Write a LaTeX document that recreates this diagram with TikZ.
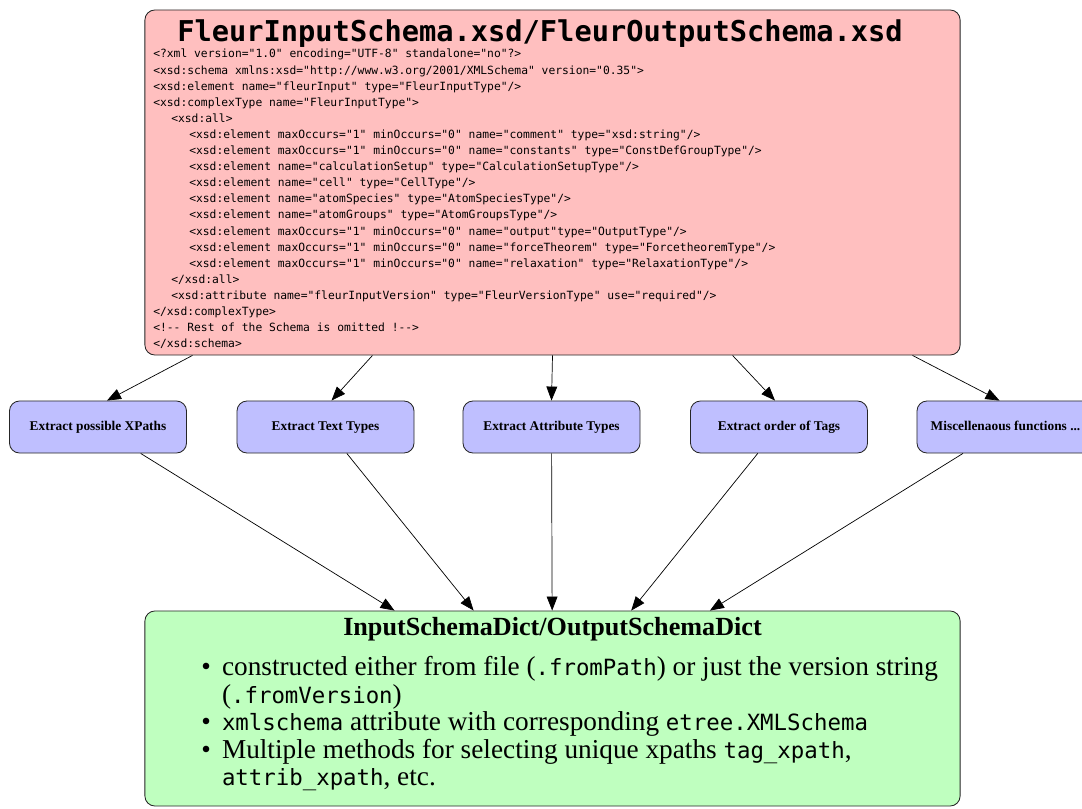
\documentclass[tikz,border=0pt]{standalone}
\usepackage{fontspec}
\setmainfont{Liberation Serif}
\setmonofont{DejaVu Sans Mono}[Scale=0.82]
\newfontfamily\codefont{DejaVu Sans Mono}
\usepackage{enumitem}
\usetikzlibrary{arrows.meta}
\definecolor{schemared}{HTML}{FFBFBF}
\definecolor{extractblue}{HTML}{BFBFFF}
\definecolor{dictgreen}{HTML}{BFFFBF}

\begin{document}
\begin{tikzpicture}[x=0.025cm,y=-0.025cm,
  roundbox/.style={draw=black!85,line width=0.6pt,rounded corners=0.25cm},
  extract/.style={roundbox,fill=extractblue,minimum width=4.425cm,minimum height=1.3cm,text height=1.6ex,text depth=0.4ex,font=\fontsize{9.5}{11}\selectfont\bfseries},
  flow/.style={-{Triangle[length=0.35cm,width=0.27cm]},line width=0.5pt}]
\useasboundingbox (0,0) rectangle (1082,808);
\clip (0,0) rectangle (1082,808);
\node[roundbox,fill=schemared,minimum width=20.375cm,minimum height=8.625cm] (schema) at (552.5,182.5) {};
\node[anchor=base,inner sep=0pt,font=\codefont\fontsize{20.4}{24}\selectfont\bfseries] (title) at (540,42) {FleurInputSchema.xsd/FleurOutputSchema.xsd};
\node[anchor=north west,inner sep=0pt,align=left,font=\codefont\fontsize{8.05}{11.45}\selectfont] (code) at (153,49) {%
<?xml version="1.0" encoding="UTF-8" standalone="no"?>\\
<xsd:schema xmlns:xsd="http://www.w3.org/2001/XMLSchema" version="0.35">\\
<xsd:element name="fleurInput" type="FleurInputType"/>\\
<xsd:complexType name="FleurInputType">\\
\hspace*{0.45cm}<xsd:all>\\
\hspace*{0.9cm}<xsd:element maxOccurs="1" minOccurs="0" name="comment" type="xsd:string"/>\\
\hspace*{0.9cm}<xsd:element maxOccurs="1" minOccurs="0" name="constants" type="ConstDefGroupType"/>\\
\hspace*{0.9cm}<xsd:element name="calculationSetup" type="CalculationSetupType"/>\\
\hspace*{0.9cm}<xsd:element name="cell" type="CellType"/>\\
\hspace*{0.9cm}<xsd:element name="atomSpecies" type="AtomSpeciesType"/>\\
\hspace*{0.9cm}<xsd:element name="atomGroups" type="AtomGroupsType"/>\\
\hspace*{0.9cm}<xsd:element maxOccurs="1" minOccurs="0" name="output"type="OutputType"/>\\
\hspace*{0.9cm}<xsd:element maxOccurs="1" minOccurs="0" name="forceTheorem" type="ForcetheoremType"/>\\
\hspace*{0.9cm}<xsd:element maxOccurs="1" minOccurs="0" name="relaxation" type="RelaxationType"/>\\
\hspace*{0.45cm}</xsd:all>\\
\hspace*{0.45cm}<xsd:attribute name="fleurInputVersion" type="FleurVersionType" use="required"/>\\
</xsd:complexType>\\
<!-{}- Rest of the Schema is omitted !-{}->\\
</xsd:schema>};
\node[extract] (xpaths) at (98,427) {Extract possible XPaths};
\node[extract] (texttypes) at (325.5,427) {Extract Text Types};
\node[extract] (attribtypes) at (551.5,427) {Extract Attribute Types};
\node[extract] (tagorder) at (779,427) {Extract order of Tags};
\node[extract] (misc) at (1005.5,427) {Miscellenaous functions ...};
\node[roundbox,fill=dictgreen,minimum width=20.375cm,minimum height=4.875cm] (dict) at (552.5,708.5) {%
\begin{minipage}{20cm}
\fontsize{19.4}{19.6}\selectfont
\centering{\fontsize{18.6}{19.6}\selectfont\textbf{InputSchemaDict/OutputSchemaDict}}\par\vspace{9pt}
\raggedright
\begin{itemize}[leftmargin=1.74cm,labelsep=0.28cm,itemsep=0pt,topsep=0pt,parsep=0pt,partopsep=0pt]
\item constructed either from file (\texttt{.fromPath}) or just the version string\\(\texttt{.fromVersion})
\item \texttt{xmlschema} attribute with corresponding \texttt{etree.XMLSchema}
\item Multiple methods for selecting unique xpaths \texttt{tag\_xpath},\\\texttt{attrib\_xpath}, etc.
\end{itemize}
\vspace{6pt}
\end{minipage}};
\path[flow] ([xshift=-9cm]schema.south) edge ([xshift=0.225cm]xpaths.north);
\path[flow] ([xshift=-4.5cm]schema.south) edge ([xshift=0.15cm]texttypes.north);
\path[flow] (schema.south) edge (attribtypes.north);
\path[flow] ([xshift=4.5cm]schema.south) edge ([xshift=-0.1cm]tagorder.north);
\path[flow] ([xshift=9cm]schema.south) edge ([xshift=-0.15cm]misc.north);
\path[flow] (xpaths) edge (dict);
\path[flow] (texttypes) edge (dict);
\path[flow] (attribtypes) edge (dict);
\path[flow] (tagorder) edge (dict);
\path[flow] (misc) edge (dict);
\end{tikzpicture}
\end{document}
